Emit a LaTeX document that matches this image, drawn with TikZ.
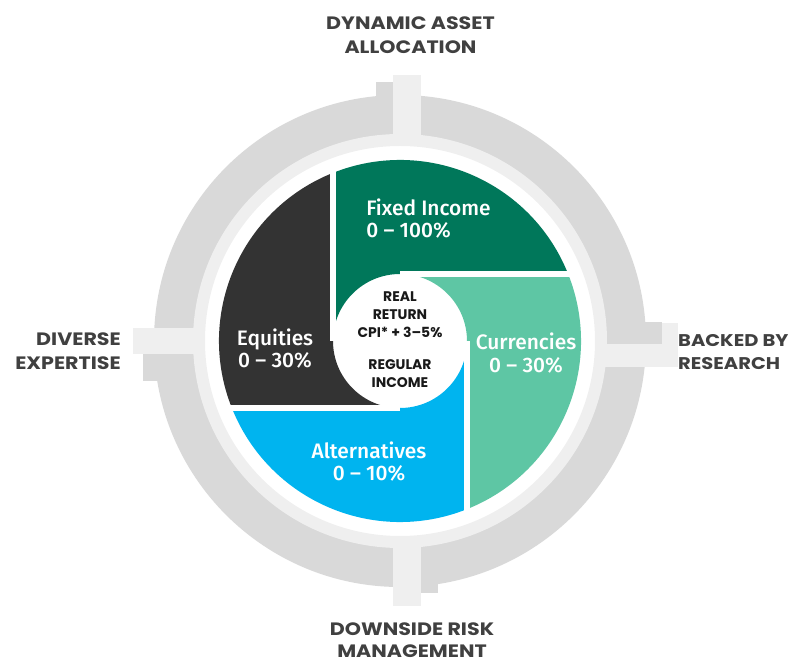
\documentclass[tikz,border=0pt]{standalone}
\usepackage{fontspec}
\setmainfont{Poppins}
\newfontfamily\widefont{Poppins}[FakeStretch=1.15]
\newfontfamily\segfont{Fira Sans}[UprightFont={* Medium}]
\usepackage{xcolor}
\definecolor{ringdark}{HTML}{D9D9D9}
\definecolor{ringlight}{HTML}{EFEFEF}
\definecolor{eqgray}{HTML}{333333}
\definecolor{fixgreen}{HTML}{00775A}
\definecolor{curmint}{HTML}{5EC6A4}
\definecolor{altblue}{HTML}{00B4EF}
\definecolor{labgray}{HTML}{404040}

\begin{document}
\begin{tikzpicture}[x=1bp, y=1bp,
    outer/.style={font=\widefont\bfseries\fontsize{18}{24}\selectfont, text=labgray, inner sep=0pt},
    seg/.style={font=\segfont\fontsize{21}{23}\selectfont, text=white, inner sep=0pt},
    hub/.style={font=\bfseries\fontsize{14}{18}\selectfont, text=black!90, align=center, inner sep=0pt}]
  \useasboundingbox (-400,-323) rectangle (393,341);

  % gray ring with its four stubs
  \fill[ringdark, even odd rule] (0,0) circle (246) (0,0) circle (200);
  \fill[ringlight] (198,18) rectangle (278,-26);
  \fill[ringdark] (-24,203) rectangle (-7,259);
  \fill[ringdark] (203,19) rectangle (262,-3);
  \fill[ringdark] (21,-203) rectangle (38,-252);
  \fill[ringdark] (-203,-13) rectangle (-257,-40);
  \fill[ringlight, even odd rule] (0,0) circle (207) (0,0) circle (195);
  \fill[ringlight] (-7,198) rectangle (21,266);
  \fill[ringlight] (-7,-198) rectangle (21,-265);
  \fill[ringlight] (-198,13) rectangle (-267,-13);

  % the four pieces
  \fill[fixgreen] (-67,0) -- (111.7:181) arc[start angle=111.7, end angle=21.7, radius=181]
    -- (0,67) arc[start angle=90, end angle=180, radius=67] -- cycle;
  \fill[curmint] (0,67) -- (21.7:181) arc[start angle=21.7, end angle=-68.3, radius=181]
    -- (67,0) arc[start angle=0, end angle=90, radius=67] -- cycle;
  \fill[altblue] (67,0) -- (-68.3:181) arc[start angle=-68.3, end angle=-158.3, radius=181]
    -- (0,-67) arc[start angle=-90, end angle=0, radius=67] -- cycle;
  \fill[eqgray] (0,-67) -- (-158.3:181) arc[start angle=-158.3, end angle=-248.3, radius=181]
    -- (-67,0) arc[start angle=180, end angle=270, radius=67] -- cycle;
  \draw[white, line width=6bp] (-67,0) -- (-67,174)
                               (0,67) -- (174,67)
                               (67,0) -- (67,-174)
                               (0,-67) -- (-174,-67);

  \node[seg, align=left](fix) at (28.5,122.5) {Fixed Income\\0 – 100\%};
  \node[seg, align=center](cur) at (126,-12) {Currencies\\0 – 30\%};
  \node[seg, align=center](alt) at (-31,-120.5) {Alternatives\\0 – 10\%};
  \node[seg, align=center](eq) at (-125,-7.5) {Equities\\0 – 30\%};

  \node[hub](ret) at (0,26) {REAL\\RETURN\\CPI* + 3–5\%};
  \node[hub](inc) at (0,-32.5) {REGULAR\\INCOME};

  \node[outer, align=center](dyn) at (10.5,305.5) {DYNAMIC ASSET\\ALLOCATION};
  \node[outer, align=center, font=\widefont\bfseries\fontsize{18}{22}\selectfont](down) at (12,-299) {DOWNSIDE RISK\\MANAGEMENT};
  \node[outer, align=right, anchor=east](div) at (-279,-10) {DIVERSE\\EXPERTISE};
  \node[outer, align=left, anchor=west, font=\widefont\bfseries\fontsize{17}{23}\selectfont](back) at (278,-11) {BACKED BY\\RESEARCH};
\end{tikzpicture}
\end{document}
